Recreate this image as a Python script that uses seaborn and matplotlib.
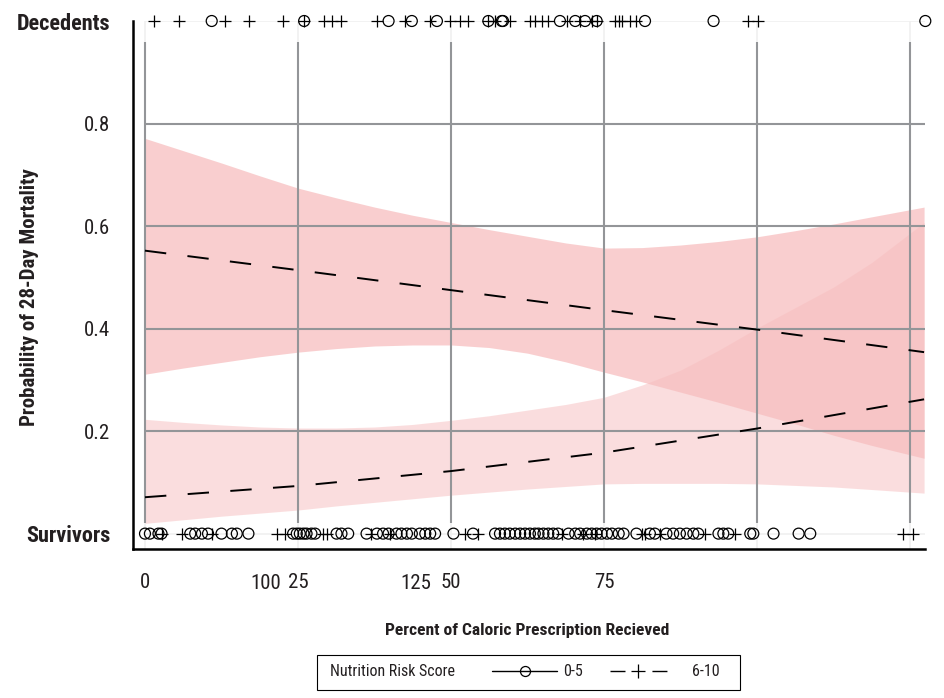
import numpy as np
import matplotlib
matplotlib.use("Agg")
import matplotlib.pyplot as plt
from matplotlib import font_manager
from matplotlib.lines import Line2D
from matplotlib.patches import Rectangle
from matplotlib.transforms import blended_transform_factory
import seaborn as sns

# fitted probability curves
fit_x = [0, 25, 50, 75, 100, 127.3]
fit_high = [0.552, 0.514, 0.475, 0.436, 0.398, 0.354]
fit_low = [0.071, 0.093, 0.122, 0.158, 0.205, 0.262]

# confidence bands
band_x = [0, 6.25, 12.5, 18.75, 25, 31.25, 37.5, 43.75, 50, 56.25, 62.5, 68.75, 75,
          81.25, 87.5, 93.75, 100, 106.25, 112.5, 118.75, 127.3]
high_upper = [0.771, 0.747, 0.723, 0.698, 0.674, 0.655, 0.637, 0.621, 0.607, 0.593, 0.580,
              0.567, 0.557, 0.558, 0.563, 0.570, 0.579, 0.591, 0.604, 0.618, 0.637]
high_lower = [0.311, 0.323, 0.334, 0.345, 0.354, 0.361, 0.366, 0.368, 0.368, 0.363, 0.352,
              0.335, 0.315, 0.296, 0.276, 0.256, 0.235, 0.214, 0.192, 0.172, 0.147]
low_upper = [0.223, 0.217, 0.212, 0.208, 0.206, 0.206, 0.208, 0.213, 0.221, 0.230, 0.241,
             0.252, 0.266, 0.290, 0.319, 0.358, 0.401, 0.441, 0.481, 0.529, 0.607]
low_lower = [0.020, 0.027, 0.034, 0.040, 0.046, 0.054, 0.061, 0.068, 0.075, 0.081, 0.087,
             0.092, 0.097, 0.098, 0.098, 0.098, 0.097, 0.094, 0.091, 0.086, 0.079]

# rug of observations: circles = score 0-5, plus = score 6-10
dec_circle = [10.9, 26.0, 39.8, 43.6, 47.7, 56.1, 58.3, 58.5, 67.8, 70.3, 71.9, 73.8,
              81.7, 92.9, 127.5]
dec_plus = [1.5, 5.6, 13.1, 17.0, 22.6, 26.0, 29.3, 30.5, 32.1, 37.9, 42.5, 46.6, 49.8,
            51.5, 52.8, 56.1, 57.2, 59.6, 62.9, 63.7, 64.8, 65.9, 68.9, 71.1, 73.0, 73.8,
            76.8, 77.4, 77.9, 79.2, 80.3, 98.6, 100.2]
surv_circle = [0.0, 0.8, 2.2, 2.7, 7.4, 8.2, 9.3, 10.3, 12.5, 14.2, 15.0, 16.9, 24.2, 24.8,
               25.3, 25.9, 26.4, 27.2, 27.8, 31.3, 32.1, 33.2, 36.2, 37.9, 38.9, 39.8, 41.1,
               41.9, 42.8, 43.6, 44.9, 45.8, 46.6, 47.4, 50.4, 53.6, 57.2, 58.0, 58.8, 59.6,
               60.5, 61.3, 62.1, 62.9, 63.7, 64.3, 65.1, 65.9, 66.7, 67.5, 69.2, 70.3, 71.1,
               72.2, 73.0, 73.8, 74.6, 75.5, 76.3, 77.4, 78.2, 80.3, 82.5, 83.3, 85.2, 86.3,
               87.4, 88.5, 89.6, 90.4, 93.7, 94.5, 95.3, 98.9, 99.4, 102.7, 106.8, 108.7]
surv_plus = [2.7, 6.0, 10.9, 21.5, 22.9, 29.1, 29.7, 37.0, 40.0, 52.3, 54.4, 68.1, 71.5,
             73.5, 81.2, 81.7, 84.2, 91.5, 96.4, 123.9, 125.5]

x_ticks = [0, 25, 50, 75, 100, 125]
x_ticklabels = ["0", "25", "50", "75", "", ""]
stray_labels = {"100": 19.8, "125": 44.3}
y_ticks = [0, 0.2, 0.4, 0.6, 0.8, 1.0]
y_ticklabels = ["Survivors", "0.2", "0.4", "0.6", "0.8", "Decedents"]


def pick_font():
    for name in ["Liberation Sans Narrow", "Roboto Condensed", "Liberation Sans"]:
        try:
            font_manager.findfont(font_manager.FontProperties(family=name),
                                  fallback_to_default=False)
            return name
        except ValueError:
            continue
    return "DejaVu Sans"


def main():
    sns.set_style("white")
    font = pick_font()
    plt.rcParams["font.family"] = [font, "DejaVu Sans"]
    txt_col = "#231f20"
    grid_col = "#939598"
    tick_fs = 15

    fig = plt.figure(figsize=(9.44, 6.98), dpi=100)
    ax = fig.add_axes([133 / 944, 1 - 549 / 698, 792 / 944, 528 / 698])
    ax.set_xlim(-1.96, 127.45)
    ax.set_ylim(-0.03, 1.0)

    # faint full grid + stronger inner grid drawn over the bands
    for xv in x_ticks:
        ax.axvline(xv, color="#f0f0f0", lw=1.2, zorder=0)
        ax.vlines(xv, 0.02, 0.96, color=grid_col, lw=1.5, zorder=2.5)
    for yv in [0, 1]:
        ax.hlines(yv, 0, 127.45, color="#f0f0f0", lw=1.2, zorder=0)
    for yv in [0.2, 0.4, 0.6, 0.8]:
        ax.hlines(yv, 0, 127.45, color=grid_col, lw=1.5, zorder=2.5)

    band_col = "#f7bdbe"
    ax.fill_between(band_x, low_lower, low_upper, color=band_col, alpha=0.5, lw=0, zorder=2)
    ax.fill_between(band_x, high_lower, high_upper, color=band_col, alpha=0.73, lw=0, zorder=2)

    sns.lineplot(x=fit_x, y=fit_high, ax=ax, color="black", lw=1.4,
                 linestyle=(0, (11, 11)), zorder=3)
    sns.lineplot(x=fit_x, y=fit_low, ax=ax, color="black", lw=1.4,
                 linestyle=(0, (11, 11)), zorder=3)

    circ_kw = dict(marker="o", s=62, facecolor="none", edgecolor="black", linewidth=0.9,
                   clip_on=False, zorder=4, ax=ax)
    plus_kw = dict(marker="+", s=75, color="black", linewidth=0.9, clip_on=False,
                   zorder=4, ax=ax)
    sns.scatterplot(x=dec_circle, y=[1.0] * len(dec_circle), **circ_kw)
    sns.scatterplot(x=surv_circle, y=[0.0] * len(surv_circle), **circ_kw)
    sns.scatterplot(x=dec_plus, y=[1.0] * len(dec_plus), **plus_kw)
    sns.scatterplot(x=surv_plus, y=[0.0] * len(surv_plus), **plus_kw)

    # spines and ticks
    for s in ["top", "right"]:
        ax.spines[s].set_visible(False)
    for s in ["left", "bottom"]:
        ax.spines[s].set_linewidth(1.8)
        ax.spines[s].set_color("black")
    ax.set_xticks(x_ticks)
    ax.set_xticklabels(x_ticklabels)
    ax.set_yticks(y_ticks)
    ax.set_yticklabels(y_ticklabels)
    ax.tick_params(axis="both", length=7.5, width=1.6, color="black",
                   labelsize=tick_fs, labelcolor=txt_col)
    ax.tick_params(axis="x", pad=10)
    ax.tick_params(axis="y", pad=9)
    for lab in ax.get_yticklabels():
        if lab.get_text() in ("Survivors", "Decedents"):
            lab.set_fontweight("bold")
            lab.set_fontsize(16)
    # the "100" and "125" labels sit off their ticks in the original
    tr = blended_transform_factory(ax.transData, fig.transFigure)
    for txt, xv in stray_labels.items():
        ax.text(xv, 1 - 574 / 698, txt, transform=tr, ha="center", va="top",
                fontsize=tick_fs, color=txt_col)

    fig.text(30 / 944, 1 - 297 / 698, "Probability of 28-Day Mortality", rotation=90,
             ha="center", va="center", fontsize=15, fontweight="bold", color=txt_col)
    fig.text(527 / 944, 1 - 631 / 698, "Percent of Caloric Prescription Recieved",
             ha="center", va="center", fontsize=12.6, fontweight="bold", color=txt_col)

    # legend box
    fig.patches.append(Rectangle((317 / 944, 1 - 690 / 698), 423 / 944, 35 / 698,
                                 transform=fig.transFigure, fill=False, ec="black", lw=0.8))
    fig.text(330 / 944, 1 - 672 / 698, "Nutrition Risk Score", ha="left", va="center",
             fontsize=11.5, color=txt_col)
    h_low = Line2D([], [], color="black", lw=1.0, marker="o", markersize=7.2,
                   markerfacecolor="none", markeredgewidth=0.9)
    h_high = Line2D([], [], color="black", lw=1.0, marker="+", markersize=9.4,
                    markeredgewidth=0.9, linestyle=(26.6, (10.8, 19.4)))
    leg_kw = dict(loc="center left", frameon=False, fontsize=11.5, handlelength=4.07,
                  numpoints=1, borderaxespad=0, borderpad=0, labelcolor=txt_col)
    fig.legend([h_low], ["0-5"], bbox_to_anchor=(492 / 944, 1 - 672 / 698),
               handletextpad=0.375, **leg_kw)
    fig.legend([h_high], ["6-10"], bbox_to_anchor=(605 / 944, 1 - 672 / 698),
               handletextpad=1.38, **leg_kw)

    fig.savefig("out.png", dpi=100)


if __name__ == "__main__":
    main()
